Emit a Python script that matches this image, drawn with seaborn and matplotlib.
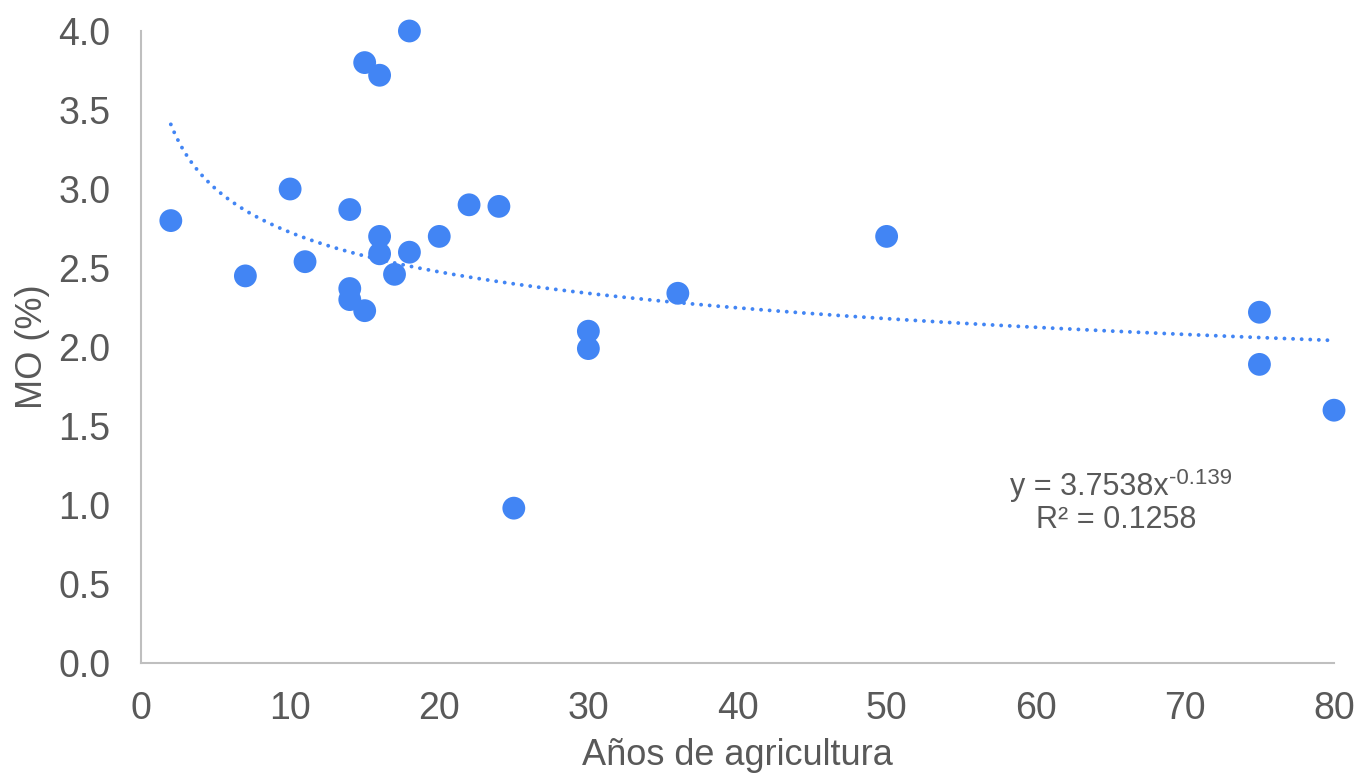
import numpy as np
import pandas as pd
import matplotlib
matplotlib.use("Agg")
import matplotlib.pyplot as plt
import seaborn as sns

# Data
anos = [2, 7, 10, 11, 14, 14, 14, 15, 15, 16, 16, 16, 17, 18, 18, 20, 22, 24, 25, 30, 30, 36, 50, 75, 75, 80]
mo = [2.80, 2.45, 3.00, 2.54, 2.87, 2.37, 2.30, 3.80, 2.23, 3.72, 2.70, 2.59, 2.46, 4.00, 2.60, 2.70, 2.90, 2.89, 0.98, 2.10, 1.99, 2.34, 2.70, 2.22, 1.89, 1.60]

# Power trendline coefficients (from chart label)
coef_a = 3.7538
coef_b = -0.139
eq_base = "y = 3.7538x"
eq_exp = "-0.139"
r2_text = "R² = 0.1258"

xticks = [0, 10, 20, 30, 40, 50, 60, 70, 80]
yticks = [0.0, 0.5, 1.0, 1.5, 2.0, 2.5, 3.0, 3.5, 4.0]

sns.set_theme(style="white")
plt.rcParams['font.family'] = ['Liberation Sans', 'DejaVu Sans']

blue = "#4285F4"
grey_txt = "#595959"
grey_ax = "#BFBFBF"

df = pd.DataFrame({"anos": anos, "mo": mo})

fig = plt.figure(figsize=(13.62, 7.79), dpi=100)
ax = fig.add_axes([141/1362, 1-663/779, (1334-141)/1362, (663-31)/779])

xs = np.linspace(min(anos), max(anos), 400)
ys = coef_a * xs ** coef_b
ax.plot(xs, ys, linestyle=(0, (0.01, 2.2)), color=blue, linewidth=2.8,
        dash_capstyle="round", zorder=2)

sns.scatterplot(data=df, x="anos", y="mo", ax=ax, s=270, color=blue,
                edgecolor="none", linewidth=0, zorder=3, clip_on=False)

ax.set_xlim(0, 80)
ax.set_ylim(0, 4.0)
ax.set_xticks(xticks)
ax.set_yticks(yticks)
ax.set_xticklabels([str(t) for t in xticks])
ax.set_yticklabels([f"{t:.1f}" for t in yticks])
ax.tick_params(axis="both", length=0, labelsize=27, colors=grey_txt)
ax.tick_params(axis="x", pad=20)
ax.tick_params(axis="y", pad=22)

for s in ["top", "right"]:
    ax.spines[s].set_visible(False)
for s in ["left", "bottom"]:
    ax.spines[s].set_color(grey_ax)
    ax.spines[s].set_linewidth(1.5)

ax.set_xlabel("Años de agricultura", fontsize=26, color=grey_txt, labelpad=8)
ax.set_ylabel("MO (%)", fontsize=26, color=grey_txt, labelpad=6)

t1 = fig.text(1010/1362, 1-487/779, eq_base, fontsize=22, color=grey_txt,
              ha="left", va="center")
fig.canvas.draw()
ax.annotate(eq_exp, xy=(1.0, 0.45), xycoords=t1, fontsize=16, color=grey_txt,
            ha="left", va="bottom")
fig.text(1116/1362, 1-520/779, r2_text, fontsize=22, color=grey_txt,
         ha="center", va="center")

fig.savefig("out.png", dpi=100)
